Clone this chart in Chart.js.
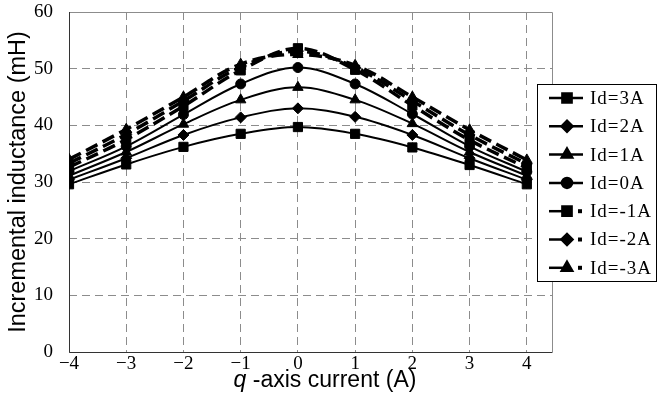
<!DOCTYPE html>
<html>
<head>
<meta charset="utf-8">
<script src="https://cdn.jsdelivr.net/npm/chart.js@4/dist/chart.umd.min.js"></script>
<style>
html, body { margin: 0; padding: 0; background: #fff; }
</style>
</head>
<body>
<canvas id="grafica" width="661" height="399"></canvas>
<script>
// Datos
const corrienteQ = [-4, -3, -2, -1, 0, 1, 2, 3, 4];
const etiquetasX = ['\u22124', '\u22123', '\u22122', '\u22121', '0', '1', '2', '3', '4'];
const etiquetasSerie = ['Id=3A', 'Id=2A', 'Id=1A', 'Id=0A', 'Id=-1A', 'Id=-2A', 'Id=-3A'];

const id3A  = [29.6, 33.1, 36.2, 38.5, 39.7, 38.5, 36.1, 33.0, 29.6];
const id2A  = [30.4, 34.2, 38.3, 41.4, 43.0, 41.5, 38.3, 34.2, 30.4];
const id1A  = [31.1, 35.3, 40.2, 44.5, 46.7, 44.5, 40.3, 35.3, 31.1];
const id0A  = [31.9, 36.3, 41.9, 47.3, 50.2, 47.3, 42.0, 36.3, 31.8];
const idm1A = [32.6, 37.5, 43.4, 49.7, 53.6, 49.8, 43.5, 37.4, 32.5];
const idm2A = [33.3, 38.4, 44.3, 50.3, 53.1, 50.2, 44.3, 38.3, 33.2];
const idm3A = [34.0, 39.3, 45.0, 50.8, 52.5, 50.6, 45.0, 39.2, 33.9];

const valores = [id3A, id2A, id1A, id0A, idm1A, idm2A, idm3A];
const marcadores = ['rect', 'rectRot', 'triangle', 'circle', 'rect', 'rectRot', 'triangle'];
const radios = [6.5, 5.5, 6, 5, 6.5, 5.5, 6];

const fuenteSerif = '"Liberation Serif", "DejaVu Serif", serif';
const fuenteSans = '"Liberation Sans", Arial, sans-serif';

const datasets = valores.map((serie, i) => {
    const punteada = i >= 4;
    return {
        label: etiquetasSerie[i],
        data: serie.map((v, k) => ({ x: corrienteQ[k], y: v })),
        borderColor: '#000',
        backgroundColor: '#000',
        borderWidth: punteada ? 3.5 : 2,
        borderDash: punteada ? [13, 6] : [],
        tension: 0.35,
        pointStyle: marcadores[i],
        pointRadius: radios[i],
        pointHoverRadius: radios[i],
        pointBorderWidth: 1,
        showLine: true,
        fill: false
    };
});

// Marco del area de trazado
const marco = {
    id: 'marco',
    beforeDatasetsDraw(chart) {
        const { ctx, chartArea: a } = chart;
        ctx.save();
        ctx.lineWidth = 1;
        ctx.strokeStyle = '#8c8c8c';
        ctx.beginPath();
        ctx.moveTo(a.left, a.top + 0.5);
        ctx.lineTo(a.right + 0.5, a.top + 0.5);
        ctx.lineTo(a.right + 0.5, a.bottom);
        ctx.stroke();
        ctx.strokeStyle = '#333';
        ctx.beginPath();
        ctx.moveTo(a.left + 0.5, a.top);
        ctx.lineTo(a.left + 0.5, a.bottom + 0.5);
        ctx.lineTo(a.right + 0.5, a.bottom + 0.5);
        ctx.stroke();
        ctx.restore();
    }
};

// Leyenda y titulo del eje X
const leyenda = {
    id: 'leyenda',
    afterDraw(chart) {
        const ctx = chart.ctx;
        ctx.save();
        ctx.fillStyle = '#fff';
        ctx.fillRect(537, 84, 121, 198);
        ctx.strokeStyle = '#000';
        ctx.lineWidth = 1;
        ctx.strokeRect(537.5, 84.5, 119, 197);

        chart.data.datasets.forEach((ds, i) => {
            const y = 98 + i * 28.3;
            const punteada = ds.borderDash.length > 0;
            ctx.strokeStyle = '#000';
            ctx.fillStyle = '#000';
            ctx.lineWidth = 2.5;
            ctx.beginPath();
            ctx.moveTo(549, y);
            ctx.lineTo(punteada ? 564 : 583, y);
            ctx.stroke();
            Chart.helpers.drawPoint(ctx, {
                pointStyle: ds.pointStyle,
                radius: ds.pointRadius,
                rotation: 0,
                borderWidth: 1
            }, 567, y);
            if (punteada) {
                ctx.fillRect(578, y - 2, 4, 4);
            }
            ctx.font = '19px ' + fuenteSerif;
            ctx.letterSpacing = '1px';
            ctx.textAlign = 'left';
            ctx.textBaseline = 'middle';
            ctx.fillText(ds.label, 590, y + 1);
        });

        // titulo eje X con la q en cursiva
        ctx.letterSpacing = '0px';
        ctx.textBaseline = 'middle';
        ctx.textAlign = 'left';
        const q = 'q';
        const resto = ' -axis current (A)';
        ctx.font = 'italic 23px ' + fuenteSans;
        const wq = ctx.measureText(q).width;
        ctx.font = '23px ' + fuenteSans;
        const wr = ctx.measureText(resto).width;
        let x0 = 325 - (wq + wr) / 2;
        ctx.font = 'italic 23px ' + fuenteSans;
        ctx.fillText(q, x0, 381);
        ctx.font = '23px ' + fuenteSans;
        ctx.fillText(resto, x0 + wq, 381);
        ctx.restore();
    }
};

new Chart(document.getElementById('grafica'), {
    type: 'scatter',
    data: { datasets: datasets },
    plugins: [marco, leyenda],
    options: {
        responsive: false,
        animation: false,
        events: [],
        layout: { padding: { top: 12, right: 109, left: 0, bottom: 0 } },
        plugins: {
            legend: { display: false },
            tooltip: { enabled: false }
        },
        scales: {
            x: {
                type: 'linear',
                min: -4,
                max: 4.44,
                afterBuildTicks: (scale) => {
                    scale.ticks = corrienteQ.map(v => ({ value: v }));
                },
                afterFit: (scale) => {
                    scale.height = 47;
                    scale.paddingLeft = 0;
                    scale.paddingRight = 0;
                },
                ticks: {
                    color: '#000',
                    font: { family: fuenteSerif, size: 19 },
                    padding: 1,
                    maxRotation: 0,
                    autoSkip: false,
                    callback: (value, index) => etiquetasX[index]
                },
                grid: { color: '#8c8c8c', lineWidth: 1, drawTicks: false },
                border: { display: false, dash: [8, 5] }
            },
            y: {
                min: 0,
                max: 60,
                afterFit: (scale) => {
                    scale.width = 69;
                    scale.paddingTop = 0;
                    scale.paddingBottom = 0;
                },
                ticks: {
                    stepSize: 10,
                    color: '#000',
                    font: { family: fuenteSerif, size: 19 },
                    padding: 16
                },
                grid: { color: '#8c8c8c', lineWidth: 1, drawTicks: false },
                border: { display: false, dash: [8, 5] },
                title: {
                    display: true,
                    text: 'Incremental inductance (mH)',
                    color: '#000',
                    font: { family: fuenteSans, size: 23.5 },
                    padding: { top: 4, bottom: 0 }
                }
            }
        }
    }
});
</script>
</body>
</html>
